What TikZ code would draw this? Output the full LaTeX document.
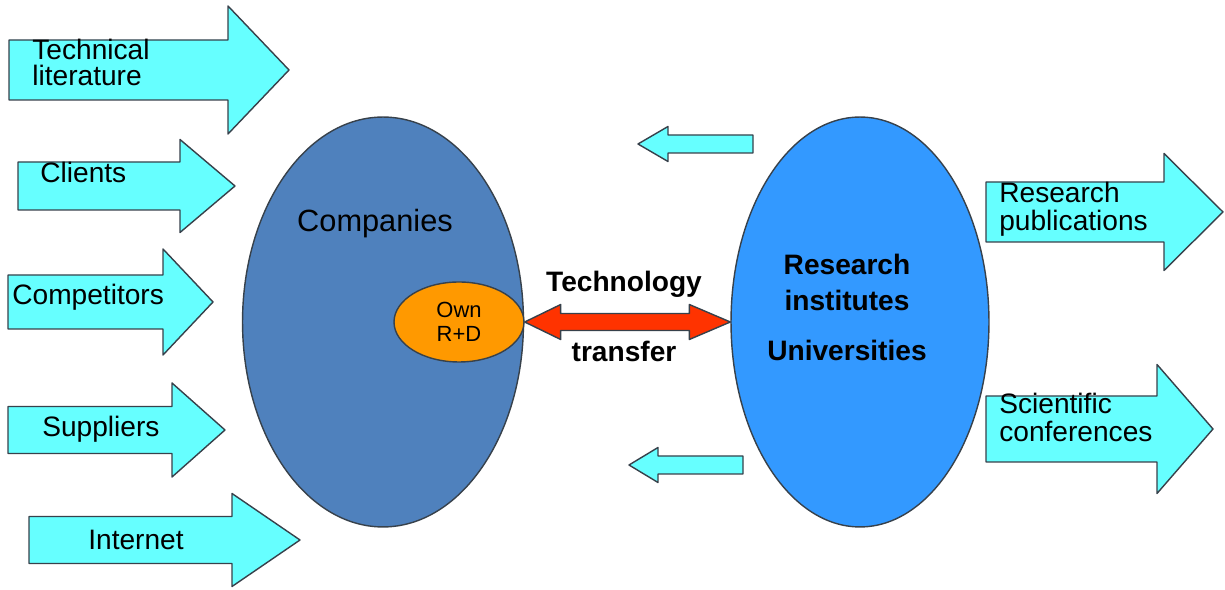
\documentclass[tikz,border=0pt]{standalone}
\usepackage{fontspec}
\setmainfont{Liberation Sans}
\definecolor{flowcyan}{RGB}{102, 255, 255}
\definecolor{compblue}{RGB}{79, 129, 189}
\definecolor{resblue}{RGB}{51, 153, 255}
\definecolor{rdorange}{RGB}{255, 153, 0}
\definecolor{techred}{RGB}{255, 51, 0}
\definecolor{edgegray}{RGB}{55, 65, 75}
\usetikzlibrary{shapes, arrows.meta, positioning, calc}

% block arrow: tail x, neck x, tip x, mid y, half body, half head
\newcommand{\flowarrow}[6]{%
  \draw[flow] (#1,#4-#5) -- (#2,#4-#5) -- (#2,#4-#6) -- (#3,#4)
    -- (#2,#4+#6) -- (#2,#4+#5) -- (#1,#4+#5) -- cycle;}

\begin{document}
\begin{tikzpicture}[
  x=0.02cm, y=-0.02cm,
  flow/.style={fill=flowcyan, draw=edgegray, line width=0.8pt, line join=round},
  blob/.style={draw=edgegray, fill=#1, ellipse, line width=0.8pt, inner sep=0pt},
  lbl/.style={font=\fontsize{16}{15}\selectfont, align=left, inner sep=0pt},
  rlbl/.style={font=\fontsize{16}{16}\selectfont, align=left, inner sep=0pt},
  bold/.style={font=\fontsize{16}{20}\selectfont\bfseries, align=center, inner sep=0pt},
]
  \useasboundingbox (0,0) rectangle (1225,590);

  % sources on the left
  \flowarrow{9}{228}{289}{70}{30}{64}
  \flowarrow{18}{180}{235}{186}{24}{46.5}
  \flowarrow{8}{163}{213}{302}{27}{53}
  \flowarrow{8}{172}{225}{430}{23.5}{47}
  \flowarrow{29}{232}{300}{540}{23.5}{46.5}
  \node[lbl, anchor=base west] (techlit) at (32, 86) {Technical\\literature};
  \node[lbl, anchor=base west] (clients) at (40, 183) {Clients};
  \node[lbl, anchor=base west] (compet) at (12, 305) {Competitors};
  \node[lbl, anchor=base west] (suppl) at (42, 437) {Suppliers};
  \node[lbl, anchor=base west] (inet) at (88, 550) {Internet};

  % the two sides
  \node[blob=compblue, minimum width=5.62cm, minimum height=8.2cm] (comp) at (383, 322) {};
  \node[blob=resblue, minimum width=5.16cm, minimum height=8.2cm] (res) at (860, 322) {};
  \node[anchor=base, inner sep=0pt, font=\fontsize{17.5}{20}\selectfont] (comptxt) at (375, 232) {Companies};
  \node[bold, anchor=base] (restxt) at (847, 361) {Research\\institutes\\[9pt]Universities};
  \node[blob=rdorange, minimum width=2.6cm, minimum height=1.6cm, align=center,
    font=\fontsize{12.5}{13.7}\selectfont] (rd) at (459, 322) {Own\\R+D};

  % technology transfer
  \draw[fill=techred, draw=edgegray, line width=0.8pt, line join=round]
    (rd.east) -- ($(rd.east)+(36,-17.5)$) -- ($(rd.east)+(36,-8.5)$)
    -- ($(res.west)+(-41,-8.5)$) -- ($(res.west)+(-41,-17.5)$) -- (res.west)
    -- ($(res.west)+(-41,17.5)$) -- ($(res.west)+(-41,8.5)$)
    -- ($(rd.east)+(36,8.5)$) -- ($(rd.east)+(36,17.5)$) -- cycle;
  \node[bold, anchor=base] (techtxt) at (624, 292) {Technology};
  \node[bold, anchor=base] (transtxt) at (624, 362) {transfer};
  \flowarrow{753}{668}{638}{144}{9}{17.5}
  \flowarrow{743}{658}{629}{465}{9}{17.5}

  % outputs on the right
  \flowarrow{986}{1164}{1223}{212}{30}{58.5}
  \flowarrow{986}{1157}{1213}{429}{33}{64.5}
  \node[rlbl, anchor=base west] (respub) at (999, 231) {Research\\publications};
  \node[rlbl, anchor=base west] (scicon) at (999, 442) {Scientific\\conferences};
\end{tikzpicture}
\end{document}
